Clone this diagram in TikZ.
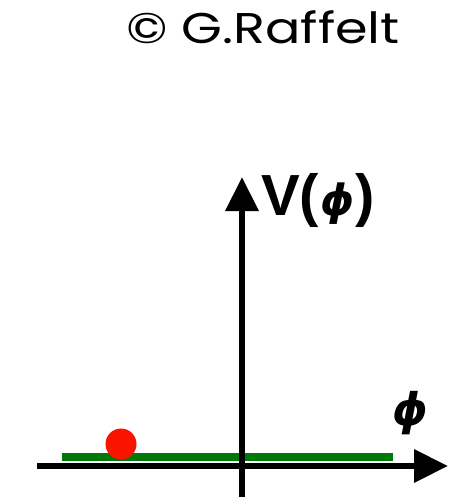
\documentclass[tikz,border=0pt]{standalone}
\usepackage{graphicx}
\usepackage{fontspec}
\setmainfont{Liberation Sans}
\newfontfamily\titlefont{Poppins}
\newfontfamily\phifont{DejaVu Sans}
\usetikzlibrary{arrows.meta}
\definecolor{ballred}{RGB}{250,20,0}
\definecolor{flatgreen}{RGB}{0,120,10}
\begin{document}
\begin{tikzpicture}[x=1pt,y=-1pt,
  axis/.style={line width=6.5pt,-{Triangle[length=34pt,width=32pt]}},
  lbl/.style={inner sep=0pt,anchor=base west,font=\bfseries}]
\useasboundingbox (0,0) rectangle (456,497);
\node[inner sep=0pt,anchor=base west,font=\titlefont\fontsize{43}{45}\selectfont] (title) at (126,44) {\scalebox{1.22}[1]{© G.Raffelt}};
\coordinate (xs) at (37,466);
\coordinate (xe) at (448,466);
\coordinate (ys) at (242,497);
\coordinate (ye) at (242,177);
\draw[line width=8pt,flatgreen] (62,457) coordinate (gs) -- (393,457) coordinate (ge);
\draw[axis] (xs) -- (xe);
\draw[axis] (ys) -- (ye);
\fill[ballred] (121,444) circle[radius=15.5] node (ball) {};
\node[lbl,font=\bfseries\fontsize{58}{60}\selectfont] (vlab) at (261,215) {V(\kern1pt{\phifont\bfseries\itshape\fontsize{43}{40}\selectfont ϕ}\kern1pt)};
\node[lbl,font=\phifont\bfseries\itshape\fontsize{45}{48}\selectfont] (philab) at (392,425) {ϕ};
\end{tikzpicture}
\end{document}
